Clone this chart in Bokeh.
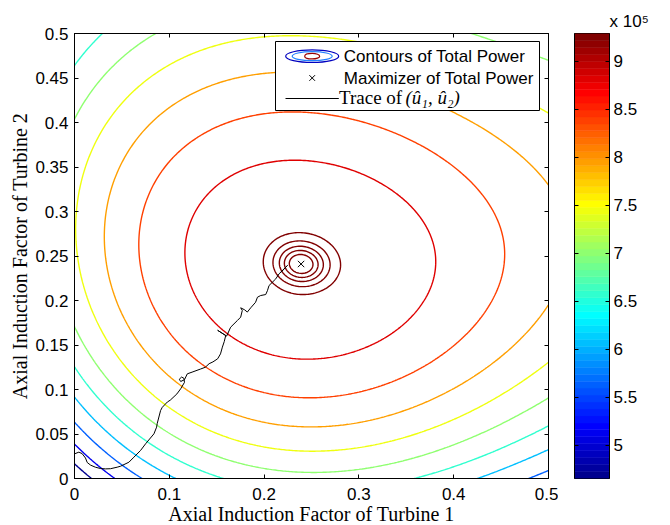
import numpy as np
from bokeh.plotting import figure
from bokeh.models import (Range1d, LinearAxis, FixedTicker, CustomJSTickFormatter,
                          LinearColorMapper, ColumnDataSource)
from bokeh.layouts import row
from bokeh.core.properties import value
from bokeh.embed import file_html
from bokeh.resources import INLINE

# ---------------- values ----------------
P_MAX = 9.29e5                      # total power at the maximizer
MAX_U1 = [0.239]                    # maximizer of total power
MAX_U2 = [0.241]
CBAR_LOW, CBAR_HIGH = 4.656e5, 9.29e5
CBAR_TICKS = [5.0e5, 5.5e5, 6.0e5, 6.5e5, 7.0e5, 7.5e5, 8.0e5, 8.5e5, 9.0e5]
X_TICKS = [0, 0.1, 0.2, 0.3, 0.4, 0.5]
Y_TICKS = [0, 0.05, 0.1, 0.15, 0.2, 0.25, 0.3, 0.35, 0.4, 0.45, 0.5]

# contour levels (navy ... red)
LEVELS = [4.70e5, 5.16e5, 5.62e5, 6.08e5, 6.54e5, 7.00e5, 7.46e5, 7.92e5, 8.38e5, 8.84e5]

# points where each contour level crosses (u1, u2, level index)
CROSS_U1 = [0.0, 0.0187,
            0.0, 0.043,
            0.0, 0.073, 0.477, 0.5,
            0.0, 0.108, 0.427, 0.5,
            0.0, 0.0, 0.0345, 0.161, 0.362, 0.5,
            0.0, 0.0063, 0.0, 0.093, 0.276, 0.5, 0.5, 0.409,
            0.0046, 0.0485, 0.1997, 0.49, 0.5, 0.276,
            0.033, 0.1013, 0.212, 0.409, 0.5, 0.5, 0.276,
            0.066, 0.46, 0.212, 0.276, 0.276,
            0.114, 0.39, 0.276, 0.276]
CROSS_U2 = [0.0165, 0.0,
            0.038, 0.0,
            0.063, 0.0, 0.0, 0.011,
            0.091, 0.0, 0.0, 0.034,
            0.124, 0.46, 0.5, 0.0, 0.0, 0.06,
            0.172, 0.4157, 0.40, 0.5, 0.0071, 0.088, 0.456, 0.5,
            0.256, 0.4157, 0.4944, 0.41, 0.129, 0.0296,
            0.257, 0.4157, 0.4565, 0.413, 0.331, 0.19, 0.0577,
            0.25, 0.245, 0.4116, 0.4135, 0.09,
            0.245, 0.245, 0.3554, 0.1326]
CROSS_K = [0, 0,
           1, 1,
           2, 2, 2, 2,
           3, 3, 3, 3,
           4, 4, 4, 4, 4, 4,
           5, 5, 5, 5, 5, 5, 5, 5,
           6, 6, 6, 6, 6, 6,
           7, 7, 7, 7, 7, 7, 7,
           8, 8, 8, 8, 8,
           9, 9, 9, 9]
# estimated power in the corners of the domain
CORNER_U1 = [0.0, 0.0, 0.5, 0.5]
CORNER_U2 = [0.0, 0.5, 0.5, 0.0]
CORNER_P = [4.35e5, 6.35e5, 6.85e5, 5.45e5]

# small rings round the maximizer: left crossing at u2 = maximizer's u2
RING_U1 = [0.1992, 0.2094, 0.2161, 0.2214, 0.2266]

# trace of (u1_hat, u2_hat)
TRACE_U1 = [0.000, 0.0046, 0.008, 0.0116, 0.0134, 0.017, 0.022, 0.0275, 0.0327, 0.038,
            0.045, 0.0486, 0.0574, 0.0627, 0.0697, 0.075, 0.0838, 0.0866, 0.0873, 0.0908,
            0.0926, 0.098, 0.101, 0.108, 0.112, 0.116, 0.1155, 0.113, 0.1105, 0.112,
            0.116, 0.119, 0.124, 0.133, 0.138, 0.142, 0.146, 0.151, 0.154, 0.156,
            0.158, 0.1595, 0.151, 0.1605, 0.1647, 0.1718, 0.1753, 0.177, 0.1753, 0.1795,
            0.1823, 0.1859, 0.191, 0.193, 0.1964, 0.2017, 0.2035, 0.2052, 0.2088, 0.2123,
            0.2158, 0.2193, 0.2246, 0.2175, 0.2246]
TRACE_U2 = [0.0277, 0.0296, 0.0280, 0.0230, 0.0180, 0.0150, 0.0127, 0.0112, 0.0108, 0.0110,
            0.0127, 0.0138, 0.0183, 0.0240, 0.0315, 0.0390, 0.0502, 0.0577, 0.0620, 0.0764,
            0.0800, 0.0860, 0.0880, 0.0950, 0.1008, 0.1080, 0.1125, 0.1140, 0.1115, 0.1090,
            0.1110, 0.1176, 0.1195, 0.1230, 0.1250, 0.1290, 0.1310, 0.1345, 0.1400, 0.1476,
            0.1540, 0.1607, 0.1665, 0.1600, 0.1700, 0.1775, 0.1813, 0.1888, 0.1918, 0.1895,
            0.1870, 0.1918, 0.1980, 0.2037, 0.2056, 0.2067, 0.2110, 0.2168, 0.2206, 0.2243,
            0.2300, 0.2337, 0.2393, 0.2315, 0.2393]

# ---------------- colormap (MATLAB jet, 64 colours) ----------------
def jet(m=64):
    n = int(np.ceil(m / 4))
    u = np.concatenate([np.arange(1, n + 1) / n, np.ones(n - 1), np.arange(n, 0, -1) / n])
    g = int(np.ceil(n / 2)) - (1 if m % 4 == 1 else 0) + np.arange(1, len(u) + 1)
    r = g + n
    b = g - n
    J = np.zeros((m, 3))
    for idx, ch in ((r, 0), (g, 1), (b, 2)):
        mask = (idx >= 1) & (idx <= m)
        J[idx[mask] - 1, ch] = u[mask]
    return ["#%02x%02x%02x" % tuple(int(round(c * 255)) for c in rgb) for rgb in J]

JET = jet(64)

def level_color(v):
    i = int(np.clip(np.floor((v - CBAR_LOW) / (CBAR_HIGH - CBAR_LOW) * 64), 0, 63))
    return JET[i]

# ---------------- power surface through the read crossings ----------------
cx, cy = MAX_U1[0], MAX_U2[0]

def basis(u1, u2):
    dx = np.asarray(u1, dtype=float) - cx
    dy = np.asarray(u2, dtype=float) - cy
    return np.stack([dx ** i * dy ** (d - i) for d in (2, 3, 4) for i in range(d + 1)], axis=-1)

fit_u1 = np.array(CROSS_U1 + CORNER_U1)
fit_u2 = np.array(CROSS_U2 + CORNER_U2)
fit_p = np.array([LEVELS[k] for k in CROSS_K] + CORNER_P)
coef, *_ = np.linalg.lstsq(basis(fit_u1, fit_u2), P_MAX - fit_p, rcond=None)

grid = np.linspace(0, 0.5, 301)
GX, GY = np.meshgrid(grid, grid)
Z = P_MAX - basis(GX, GY) @ coef

ring_levels = sorted((P_MAX - basis(RING_U1, [cy] * len(RING_U1)) @ coef).tolist())
all_levels = LEVELS + [v for v in ring_levels if LEVELS[-1] < v < P_MAX]
line_colors = [level_color(v) for v in all_levels]

# ---------------- main figure ----------------
FX0, FW, FTOP, FH = 74, 474, 33, 445
SANS = "Liberation Sans"
SERIF = "Liberation Serif"

p = figure(frame_width=FW, frame_height=FH, x_range=Range1d(0, 0.5), y_range=Range1d(0, 0.5),
           output_backend="svg", toolbar_location=None,
           min_border_left=FX0, min_border_right=10, min_border_top=FTOP, min_border_bottom=47)
p.xgrid.grid_line_color = None
p.ygrid.grid_line_color = None
p.outline_line_color = "black"
p.outline_line_alpha = 1
p.background_fill_color = "white"
p.border_fill_color = "white"

p.contour(x=grid, y=grid, z=Z, levels=all_levels, line_color=line_colors, line_width=1.4)
p.line(TRACE_U1, TRACE_U2, line_color="black", line_width=1)
p.scatter(MAX_U1, MAX_U2, marker="x", size=9, line_color="black", line_width=1)

def style_axis(ax, ticks, blank=False):
    ax.ticker = FixedTicker(ticks=ticks)
    ax.major_tick_in = 4
    ax.major_tick_out = 0
    ax.minor_tick_line_color = None
    ax.axis_line_color = "black"
    ax.major_tick_line_color = "black"
    if blank:
        ax.formatter = CustomJSTickFormatter(code="return ''")
        ax.major_label_text_font_size = "1px"
        ax.major_label_standoff = 0
    else:
        ax.formatter = CustomJSTickFormatter(code="return tick.toString()")
        ax.major_label_text_font = SANS
        ax.major_label_text_font_size = "17px"
        ax.major_label_text_color = "black"
    ax.axis_label_text_font = SERIF
    ax.axis_label_text_font_size = "20px"
    ax.axis_label_text_font_style = "normal"
    ax.axis_label_text_color = "black"

xa = p.xaxis[0]
ya = p.yaxis[0]
style_axis(xa, X_TICKS)
style_axis(ya, Y_TICKS)
xa.axis_label = "Axial Induction Factor of Turbine 1"
ya.axis_label = "Axial Induction Factor of Turbine 2"
xa.major_label_standoff = 9
xa.axis_label_standoff = 0
ya.major_label_standoff = 6
ya.axis_label_standoff = 1

top_ax = LinearAxis()
style_axis(top_ax, X_TICKS, blank=True)
p.add_layout(top_ax, "above")
right_ax = LinearAxis()
style_axis(right_ax, Y_TICKS, blank=True)
p.add_layout(right_ax, "right")

# ---------------- legend (placed in pixels of the frame) ----------------
def at(xp, yp):
    return ((xp - FX0) / FW * 0.5, (FTOP + FH - yp) / FH * 0.5)

bl, bt = at(275, 41)
br, bb = at(539, 110)
p.quad(left=[bl], right=[br], top=[bt], bottom=[bb], fill_color="white",
       line_color="black", line_width=1)
ex, ey = at(311.7, 55.7)
p.ellipse(x=[ex] * 3, y=[ey] * 3, width=[53, 40, 15], height=[12.5, 9, 5.5],
          width_units="screen", height_units="screen", fill_color=None,
          line_color=["#0000bf", "#1f7fff", "#990000"], line_width=1.2)
mx, my = at(311.7, 77.5)
p.scatter([mx], [my], marker="x", size=8, line_color="black", line_width=1)
l0x, l0y = at(285, 98)
l1x, _ = at(338.3, 98)
p.segment(x0=[l0x], y0=[l0y], x1=[l1x], y1=[l0y], line_color="black", line_width=1)
t1 = at(343.3, 55.8)
t2 = at(343.3, 77.8)
p.text(x=[t1[0], t2[0]], y=[t1[1], t2[1]],
       text=["Contours of Total Power", "Maximizer of Total Power"],
       text_font=value(SANS), text_font_size="17px", text_baseline="middle",
       text_align="left", text_color="black")
t3 = at(338.5, 96.8)
p.text(x=[t3[0]], y=[t3[1]], text=["Trace of"], text_font=value(SERIF),
       text_font_size="19px", text_baseline="middle", text_align="left", text_color="black")
t4 = at(405, 96.8)
p.text(x=[t4[0]], y=[t4[1]], text=["(û₁, û₂)"], text_font=value(SERIF),
       text_font_size="19px", text_font_style="italic", text_baseline="middle",
       text_align="left", text_color="black")

# ---------------- colour bar ----------------
cb = figure(frame_width=35, frame_height=FH, x_range=Range1d(0, 1),
            y_range=Range1d(CBAR_LOW, CBAR_HIGH), output_backend="svg",
            toolbar_location=None, x_axis_location=None, y_axis_location="right",
            min_border_left=16, min_border_right=61, min_border_top=FTOP, min_border_bottom=47)
cb.xgrid.grid_line_color = None
cb.ygrid.grid_line_color = None
cb.outline_line_color = "black"
cb.outline_line_alpha = 1
mapper = LinearColorMapper(palette=JET, low=CBAR_LOW, high=CBAR_HIGH)
edges = np.linspace(CBAR_LOW, CBAR_HIGH, len(JET) + 1)
src = ColumnDataSource(dict(bottom=edges[:-1], top=edges[1:], mid=(edges[:-1] + edges[1:]) / 2))
cb.quad(left=0, right=1, bottom="bottom", top="top", source=src,
        fill_color={"field": "mid", "transform": mapper},
        line_color={"field": "mid", "transform": mapper}, line_width=0.5)
cax = cb.yaxis[0]
cax.ticker = FixedTicker(ticks=CBAR_TICKS)
cax.formatter = CustomJSTickFormatter(code="return (tick / 1e5).toString()")
cax.major_tick_in = 4
cax.major_tick_out = 0
cax.minor_tick_line_color = None
cax.major_label_standoff = 4
cax.major_label_text_font = SANS
cax.major_label_text_font_size = "17px"
cax.major_label_text_color = "black"
cax.axis_line_color = "black"
lax = LinearAxis(ticker=FixedTicker(ticks=CBAR_TICKS),
                 formatter=CustomJSTickFormatter(code="return ''"))
lax.major_tick_in = 4
lax.major_tick_out = 0
lax.minor_tick_line_color = None
lax.major_label_text_font_size = "1px"
lax.major_label_standoff = 0
cb.add_layout(lax, "left")
cb.title.text = "x 10⁵"
cb.title.align = "left"
cb.title.offset = 35
cb.title.standoff = 5
cb.title.text_font = SANS
cb.title.text_font_size = "17px"
cb.title.text_font_style = "normal"
cb.title.text_color = "black"

layout = row(p, cb)
open("out.html", "w").write(file_html(layout, INLINE))
